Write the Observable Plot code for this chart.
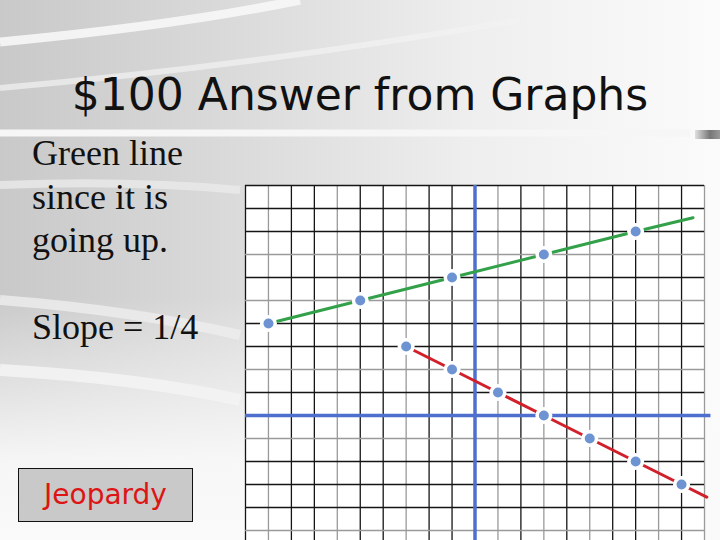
<!DOCTYPE html>
<html>
<head>
<meta charset="utf-8">
<script src="https://cdn.jsdelivr.net/npm/d3@7"></script>
<script src="https://cdn.jsdelivr.net/npm/@observablehq/plot@0.6"></script>
<style>
  html, body { margin: 0; padding: 0; }
  body {
    width: 720px; height: 540px; overflow: hidden; position: relative;
    background:
      linear-gradient(to bottom, rgba(255,255,255,0) 0%, rgba(255,255,255,0) 55%, rgba(250,250,250,0.9) 85%, #fafafa 100%),
      linear-gradient(to right, #c9c9c9 0%, #d9d9d9 30%, #eeeeee 65%, #fbfbfb 100%);
  }
  #deco { position: absolute; left: 0; top: 0; }
  #title {
    position: absolute; left: 0; width: 720px; top: 69px; text-align: center;
    font-family: "DejaVu Sans", Verdana, sans-serif; font-size: 44px; color: #111;
    line-height: 52px;
  }
  #body {
    position: absolute; left: 32px; top: 132px;
    font-family: "Liberation Serif", "Times New Roman", serif; font-size: 36px;
    line-height: 43.5px; color: #111;
  }
  #btn {
    position: absolute; left: 18px; top: 468px; width: 175px; height: 54px;
    background: #c9c9c9; border: 1px solid #111; box-sizing: border-box;
    font-family: "DejaVu Sans", Verdana, sans-serif; font-size: 28px; color: #dd1515;
    text-align: center; line-height: 52px;
  }
  #chart { position: absolute; left: 240px; top: 180px; }
  #bar { position: absolute; left: 695px; top: 130px; width: 25px; height: 9px;
    background: linear-gradient(to right, #e0e0e0, #777 60%, #999); }
</style>
</head>
<body>
<svg id="deco" width="720" height="540">
  <path d="M0,42 Q180,25 300,0" stroke="#f7f7f7" stroke-width="9" fill="none" opacity="0.9"/>
  <path d="M0,88 Q260,65 520,20" stroke="#f2f2f2" stroke-width="6" fill="none" opacity="0.7"/>
  <path d="M0,133 L690,133" stroke="#f6f6f6" stroke-width="7" fill="none"/>
  <path d="M0,185 Q130,180 240,190" stroke="#eaeaea" stroke-width="8" fill="none" opacity="0.8"/>
  <path d="M0,300 Q130,310 240,335" stroke="#eeeeee" stroke-width="10" fill="none" opacity="0.8"/>
  <path d="M0,370 Q140,378 240,400" stroke="#f3f3f3" stroke-width="12" fill="none" opacity="0.9"/>
</svg>
<div id="title">$100 Answer from Graphs</div>
<div id="body">Green line<br>since it is<br>going up.<br><br>Slope = 1/4</div>
<div id="btn">Jeopardy</div>
<div id="bar"></div>
<div id="chart"></div>
<script>
// grid ticks
const gridX = [-10,-9,-8,-7,-6,-5,-4,-3,-2,-1,0,1,2,3,4,5,6,7,8,9,10];
const gridY = [-5,-4,-3,-2,-1,0,1,2,3,4,5,6,7,8,9,10];
// lighter grid lines seen in the picture
const lightX = [-9,-6,-3,1,3,5,8,10];
const lightY = [7,5,2,-1,-5];

// green line (slope 1/4)
const greenX = [-9,-5,-1,3,7];
const greenY = [4,5,6,7,8];
const greenEndX = 9.5, greenEndY = 8.6;

// red line (slope -1/2)
const redX = [-3,-1,1,3,5,7,9];
const redY = [3,2,1,0,-1,-2,-3];
const redEndX = 10.1, redEndY = -3.55;

const greenPts = greenX.map((x,i) => ({x, y: greenY[i]}));
const redPts = redX.map((x,i) => ({x, y: redY[i]}));
const greenLine = [...greenPts, {x: greenEndX, y: greenEndY}];
const redLine = [...redPts, {x: redEndX, y: redEndY}];
const allPts = [...greenPts, ...redPts];

const blue = "#4f6fcf";
const plot = Plot.plot({
  width: 480, height: 360,
  marginLeft: 5, marginRight: 16, marginTop: 5, marginBottom: 0,
  x: {domain: [-10, 10], axis: null},
  y: {domain: [-5.435, 10], axis: null},
  style: {background: "transparent", overflow: "visible"},
  marks: [
    Plot.frame({fill: "white", stroke: "none"}),
    Plot.ruleX(gridX, {stroke: d => lightX.includes(d) ? "#9a9a9a" : "#151515", strokeWidth: 1.3}),
    Plot.ruleY(gridY, {stroke: d => lightY.includes(d) ? "#9a9a9a" : "#151515", strokeWidth: 1.3}),
    Plot.ruleX([0], {stroke: blue, strokeWidth: 3.5}),
    Plot.ruleY([0], {x1: -10, x2: 10.28, stroke: blue, strokeWidth: 3.5}),
    Plot.line(greenLine, {x: "x", y: "y", stroke: "#33a04a", strokeWidth: 3}),
    Plot.line(redLine, {x: "x", y: "y", stroke: "#d21f2a", strokeWidth: 3}),
    Plot.dot(allPts, {x: "x", y: "y", r: 8.5, fill: "white"}),
    Plot.dot(allPts, {x: "x", y: "y", r: 5, fill: "#6d93d3"})
  ]
});
document.getElementById("chart").appendChild(plot);
</script>
</body>
</html>
